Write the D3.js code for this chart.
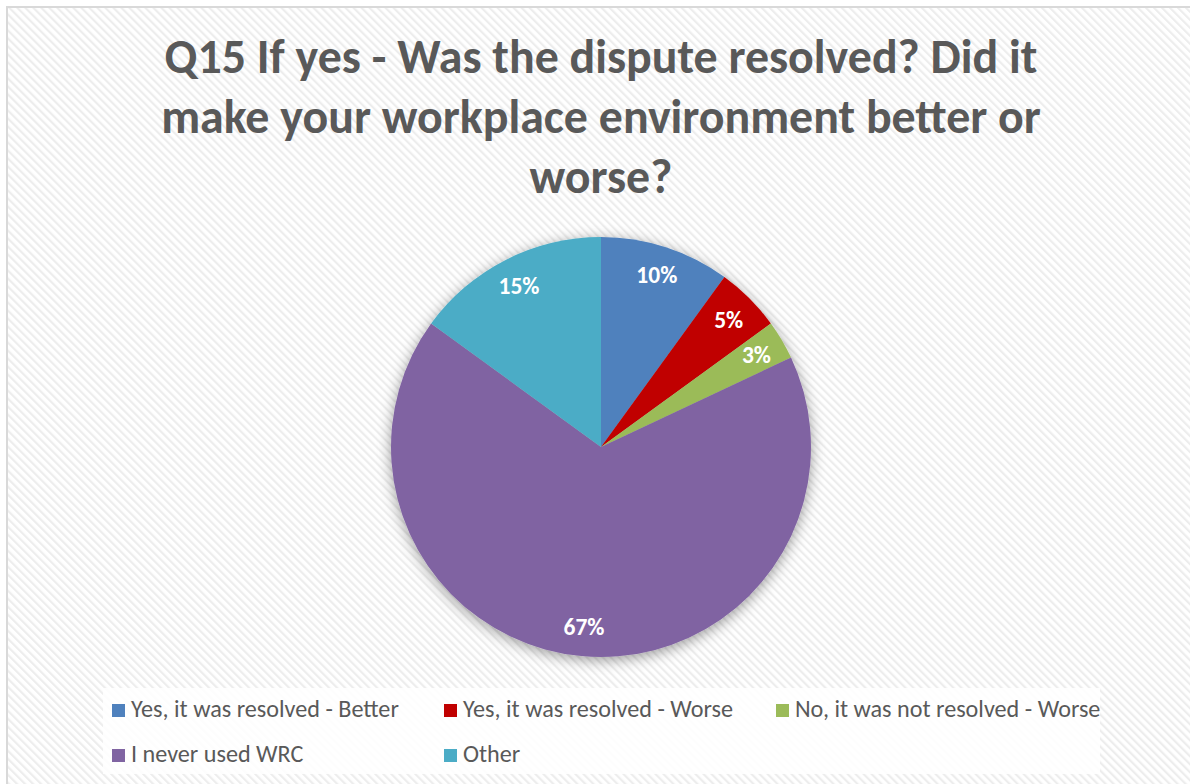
<!DOCTYPE html>
<html>
<head>
<meta charset="utf-8">
<script src="https://cdn.jsdelivr.net/npm/d3@7"></script>
<style>
  html, body { margin: 0; padding: 0; background: #ffffff; overflow: hidden; }
  svg { display: block; }
</style>
</head>
<body>
<svg id="chart" width="1190" height="784"></svg>
<script>
// Survey answers for Q15
const categories = [
  "Yes, it was resolved - Better",
  "Yes, it was resolved - Worse",
  "No, it was not resolved - Worse",
  "I never used WRC",
  "Other"
];
const values = [10, 5, 3, 67, 15];
const colors = ["#4f81bd", "#c00000", "#9bbb59", "#8064a2", "#4bacc6"];
const titleLines = [
  "Q15 If yes - Was the dispute resolved? Did it",
  "make your workplace environment better or",
  "worse?"
];

const W = 1190, H = 784;
const FONT = "Carlito, Lato, 'Open Sans', sans-serif";
const svg = d3.select("#chart");
const defs = svg.append("defs");

// diagonal hatch fill for the chart area
const pat = defs.append("pattern")
  .attr("id", "hatch")
  .attr("patternUnits", "userSpaceOnUse")
  .attr("width", 5.66).attr("height", 5.66)
  .attr("patternTransform", "rotate(-45)");
pat.append("rect").attr("width", 5.66).attr("height", 5.66).attr("fill", "#ffffff");
pat.append("rect").attr("x", 0).attr("width", 2.2).attr("height", 5.66).attr("fill", "#ededed");

// soft shadow under the pie
const sh = defs.append("filter").attr("id", "pieShadow")
  .attr("x", "-20%").attr("y", "-20%").attr("width", "140%").attr("height", "140%");
sh.append("feDropShadow")
  .attr("dx", 0).attr("dy", 3).attr("stdDeviation", 7)
  .attr("flood-color", "#000").attr("flood-opacity", 0.4);

// chart area
svg.append("rect")
  .attr("x", 7).attr("y", 7).attr("width", W + 20).attr("height", H + 20)
  .attr("fill", "url(#hatch)")
  .attr("stroke", "#d9d9d9").attr("stroke-width", 2);

// title
const title = svg.append("g").attr("fill", "#595959")
  .attr("font-family", FONT).attr("font-weight", "bold");
const titleText = title.selectAll("text").data(titleLines).join("text")
  .attr("x", 601)
  .attr("y", (d, i) => 73 + i * 60)
  .attr("text-anchor", "middle")
  .attr("font-size", 40)
  .text(d => d);
// size the title so the first line spans its measured width
const w0 = titleText.node().getComputedTextLength();
titleText.attr("font-size", 40 * 873 / w0);

// pie
const cx = 601, cy = 447, R = 210;
const pie = d3.pie().sort(null).value(d => d.v);
const arcs = pie(values.map((v, i) => ({ v, i })));
const arc = d3.arc().innerRadius(0).outerRadius(R);
const labelArc = d3.arc().innerRadius(R * 0.86).outerRadius(R * 0.86);

const g = svg.append("g").attr("transform", `translate(${cx},${cy})`);
g.append("g").attr("filter", "url(#pieShadow)")
  .selectAll("path").data(arcs).join("path")
  .attr("d", arc)
  .attr("fill", d => colors[d.data.i]);

g.selectAll("text.lbl").data(arcs).join("text")
  .attr("class", "lbl")
  .attr("transform", d => `translate(${labelArc.centroid(d)})`)
  .attr("text-anchor", "middle")
  .attr("dy", "0.35em")
  .attr("fill", "#ffffff")
  .attr("font-family", FONT).attr("font-weight", "bold")
  .attr("font-size", 23.5)
  .text(d => d.data.v + "%");

// legend
const legend = svg.append("g");
legend.append("rect")
  .attr("x", 103).attr("y", 688).attr("width", 997).attr("height", 86)
  .attr("fill", "#ffffff").attr("fill-opacity", 0.85);

const colX = [112, 444, 776];
const rowY = [717, 762];
const items = legend.selectAll("g.item").data(categories).join("g")
  .attr("class", "item")
  .attr("transform", (d, i) => `translate(${colX[i % 3]},${rowY[Math.floor(i / 3)]})`);
items.append("rect")
  .attr("x", 0).attr("y", -13).attr("width", 13).attr("height", 13)
  .attr("fill", (d, i) => colors[i]);
const legText = items.append("text")
  .attr("x", 19).attr("y", 0)
  .attr("fill", "#595959")
  .attr("font-family", FONT)
  .attr("font-size", 20)
  .text(d => d);
// fit legend font to the measured span of the first entry
const lw = legText.node().getComputedTextLength();
legText.attr("font-size", 20 * 268 / lw);
</script>
</body>
</html>
